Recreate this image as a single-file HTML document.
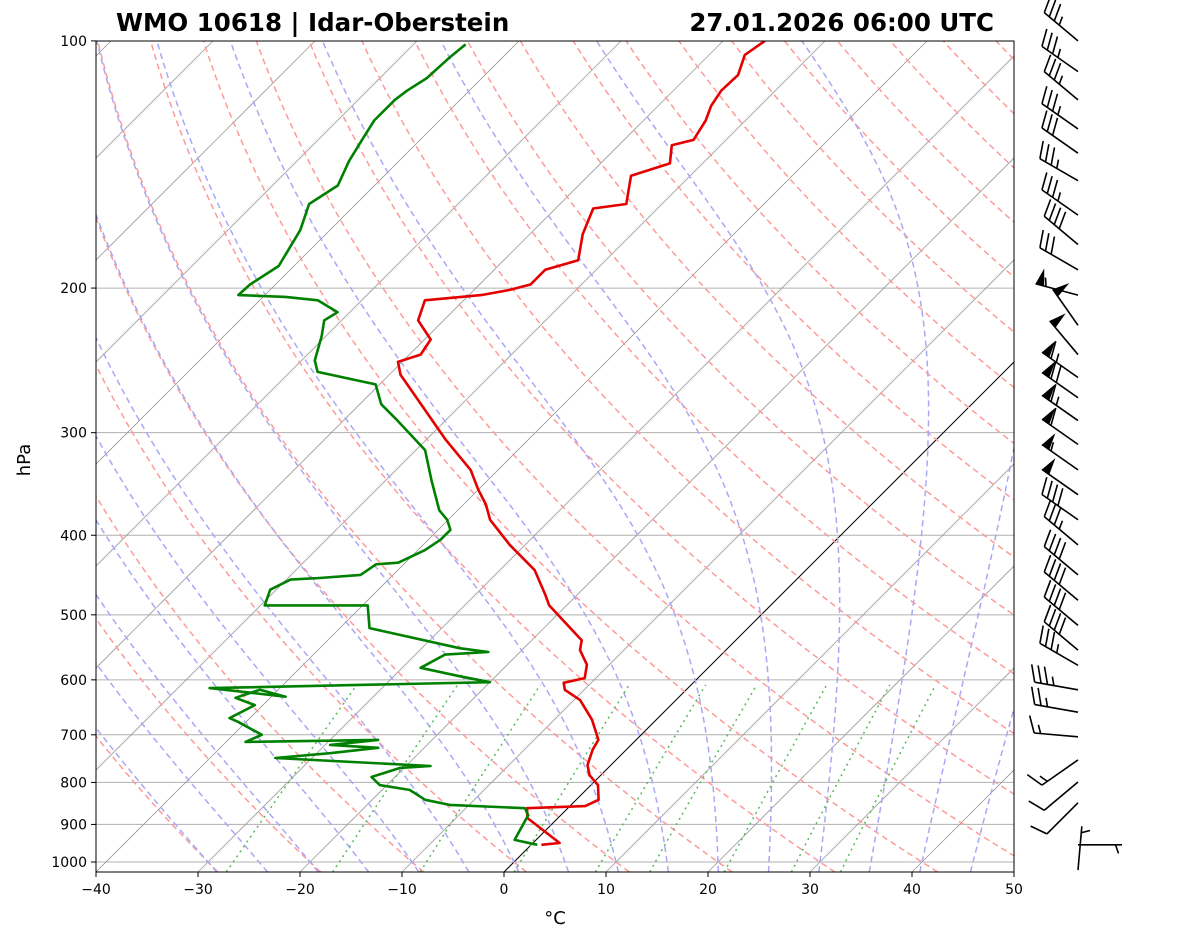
<!DOCTYPE html>
<html><head><meta charset="utf-8"><style>
body{margin:0;background:#fff;}
svg{display:block;font-family:"DejaVu Sans","Liberation Sans",sans-serif;}
</style></head><body>
<svg id="c" width="1181" height="941" viewBox="0 0 1181 941" xmlns="http://www.w3.org/2000/svg">
<defs><clipPath id="clip"><rect x="96" y="41" width="918" height="831"/></clipPath></defs>
<rect width="1181" height="941" fill="#fff"/>
<g id="bg" clip-path="url(#clip)"></g>
<g id="prof" clip-path="url(#clip)"></g>
<rect x="96" y="41" width="918" height="831" fill="none" stroke="#000" stroke-width="1"/>
<g id="axes"></g>
<g id="barbs"></g>
<text x="116" y="31" font-size="24.5" font-weight="bold">WMO 10618 | Idar-Oberstein</text>
<text x="994" y="31" font-size="24.5" font-weight="bold" text-anchor="end">27.01.2026 06:00 UTC</text>
<text x="30" y="460" font-size="18" text-anchor="middle" transform="rotate(-90 30 460)">hPa</text>
<text x="555" y="924" font-size="18" text-anchor="middle">°C</text>
</svg>
<script>
const tempP=[953,948,884,860,855,840,806,784,762,730,710,671,635,617,605,597,575,552,537,487,473,441,411,383,367,352,333,306,255,246,241,231,219,207,204,201,198,190,185,172,160,158,146,141,134,132,125,120,115,110,104,100];
const tempT=[1.0,2.6,-3.0,-4.0,1.5,2.2,0.7,-1.1,-2.3,-3.3,-3.7,-6.3,-9.4,-11.9,-12.7,-11.1,-12.2,-14.3,-15.1,-21.7,-23.1,-26.6,-31.5,-35.9,-37.8,-40.0,-42.7,-48.1,-58.9,-60.4,-58.9,-59.4,-62.5,-63.8,-58.8,-56.5,-55.0,-55.0,-52.7,-54.8,-56.3,-53.5,-55.8,-53.2,-54.8,-53.2,-53.9,-54.8,-55.3,-55.2,-56.5,-55.9];
const dewP=[953,940,877,860,852,840,817,806,788,768,764,747,737,726,720,710,714,700,675,668,644,631,617,629,614,604,594,580,559,555,549,519,487,487,466,453,451,447,434,432,417,405,394,383,373,343,315,290,277,262,253,245,229,219,214,207,205,204,198,193,188,170,158,150,140,132,125,118,115,111,105,101];
const dewT=[0.6,-2.1,-3.2,-4.2,-11.9,-14.8,-17.3,-20.7,-22.3,-20.4,-17.6,-33.6,-28.7,-24.5,-29.5,-25.3,-38.1,-37.2,-40.8,-42.0,-40.8,-43.4,-41.8,-38.6,-46.9,-20.0,-23.5,-28.2,-27.1,-23.1,-26.3,-37.1,-39.5,-49.6,-50.6,-49.6,-46.9,-43.2,-42.7,-40.7,-39.3,-38.8,-38.8,-40.1,-41.8,-45.5,-49.1,-54.7,-57.9,-60.4,-67.3,-68.7,-70.4,-71.7,-71.2,-74.3,-77.8,-82.6,-82.5,-82.0,-81.5,-82.9,-84.6,-83.6,-84.9,-85.7,-86.4,-86.4,-86.1,-85.4,-85.2,-84.9];
const windP=[100,109,118,128,137,148,163,177,190,204,222,241,257,272,290,310,333,357,383,411,447,480,515,552,576,617,657,704,751,799,847,953,1023];
const windDir=[310,305,310,305,305,300,305,310,300,285,325,320,305,305,305,305,305,305,305,310,310,310,310,310,300,280,280,275,235,230,225,90,5];
const windSpd=[35,35,35,35,30,35,35,40,30,55,50,50,65,70,65,60,55,50,40,35,40,40,40,40,35,35,25,15,15,10,10,5,5];
const yTicks=[100,200,300,400,500,600,700,800,900,1000];
const xTicks=[-40,-30,-20,-10,0,10,20,30,40,50];
const mixRatios=[0.0004,0.001,0.002,0.004,0.007,0.01,0.016,0.024,0.032];

const NS="http://www.w3.org/2000/svg";
const PBOT=1028.4;
function yp(p){return 862-356.6*Math.log(1000/p);}
function xp(T,p){return 96+(T+40)*10.2+(872-yp(p));}
function mk(tag,attrs,parent){const e=document.createElementNS(NS,tag);for(const k in attrs)e.setAttribute(k,attrs[k]);parent.appendChild(e);return e;}
const bg=document.getElementById('bg'),prof=document.getElementById('prof'),axes=document.getElementById('axes'),barbs=document.getElementById('barbs');
function pathFrom(ps,ts){let d='';for(let i=0;i<ps.length;i++){d+=(i?'L':'M')+xp(ts[i],ps[i]).toFixed(1)+','+yp(ps[i]).toFixed(1);}return d;}
const plevs=[];for(let p=PBOT;p>=99;p-=4)plevs.push(p);plevs.push(100);

for(const p of yTicks){
 const l=mk('line',{x1:96,x2:1014,y1:yp(p),y2:yp(p),stroke:'#b0b0b0','stroke-width':1},bg);
 
 
}
for(let T=-150;T<=50;T+=10){
 const l=mk('line',{x1:xp(T,PBOT),y1:yp(PBOT),x2:xp(T,100),y2:yp(100),stroke:T===0?'#000':'#999','stroke-width':T===0?1:0.8},bg);
 
 
}
for(let th=-30;th<=200;th+=10){
 const ts=plevs.map(p=>(th+273.15)*Math.pow(p/1000,0.2857)-273.15);
 const e=mk('path',{d:pathFrom(plevs,ts),fill:'none',stroke:'#ff9a9a','stroke-width':1.5,'stroke-dasharray':'6,4'},bg);
 
 
}
function rs(T,p){const es=6.112*Math.exp(17.67*(T-273.15)/(T-29.65));return 0.622*es/(p-es);}
function moistGrad(T,p){const r=rs(T,p),Lv=2.501e6,Rd=287.04,Cp=1005.7;return (Rd*T+Lv*r)/(Cp+Lv*Lv*r*0.622/(Rd*T*T))/p;}
for(let t0=-30;t0<=45;t0+=5){
 const ps=[],ts=[];
 let T=t0+273.15,p=1000;
 let Td=T,pd=1000;const down=[];
 while(pd<PBOT){const dp=Math.min(4,PBOT-pd);Td+=moistGrad(Td,pd)*dp;pd+=dp;down.push([pd,Td]);}
 down.reverse().forEach(a=>{ps.push(a[0]);ts.push(a[1]-273.15);});
 ps.push(1000);ts.push(T-273.15);
 while(p>100){const dp=Math.min(4,p-100);const k1=moistGrad(T,p);const k2=moistGrad(T-k1*dp,p-dp);T-=0.5*(k1+k2)*dp;p-=dp;ps.push(p);ts.push(T-273.15);}
 const e=mk('path',{d:pathFrom(ps,ts),fill:'none',stroke:'#a8a8f5','stroke-width':1.5,'stroke-dasharray':'6,4'},bg);
 
 
}
for(const w of mixRatios){
 const ps=[],ts=[];
 for(let p=PBOT;p>=600;p-=10){const e=p*w/(0.622+w);const l=Math.log(e/6.112);ps.push(p);ts.push(243.5*l/(17.67-l));}
 const e=mk('path',{d:pathFrom(ps,ts),fill:'none',stroke:'#5cb85c','stroke-width':1.5,'stroke-dasharray':'2,4'},bg);
 
 
}
const tl=mk('path',{d:pathFrom(tempP,tempT),fill:'none',stroke:'#e50000','stroke-width':2.6,'stroke-linejoin':'round'},prof);


const dl=mk('path',{d:pathFrom(dewP,dewT),fill:'none',stroke:'#008000','stroke-width':2.6,'stroke-linejoin':'round'},prof);


for(const p of yTicks){
 const y=yp(p);
 mk('line',{x1:91,x2:96,y1:y,y2:y,stroke:'#000'},axes);
 const t=mk('text',{x:87,y:y+5,'font-size':14,'text-anchor':'end'},axes);t.textContent=p;
 
 
}
for(const T of xTicks){
 const x=96+(T+40)*10.2;
 mk('line',{x1:x,x2:x,y1:872,y2:877,stroke:'#000'},axes);
 const t=mk('text',{x:x,y:894,'font-size':14,'text-anchor':'middle'},axes);t.textContent=(T<0?'\u2212'+(-T):T);
 
 
}
const BX=1078,L=44,F=17,SP=6.5;
for(let i=0;i<windP.length;i++){
 const by=yp(windP[i]),d=windDir[i]*Math.PI/180;
 const ux=Math.sin(d),uy=-Math.cos(d);const fx=-uy,fy=ux;
 const g=mk('g',{},barbs);
 
 
 const tx=BX+ux*L,ty=by+uy*L;
 mk('line',{x1:BX,y1:by,x2:tx,y2:ty,stroke:'#000','stroke-width':1.6},g);
 let s=Math.round(windSpd[i]/5)*5;let pos=L;
 let flags=Math.floor(s/50);s-=flags*50;let full=Math.floor(s/10);s-=full*10;let half=s>=5?1:0;
 for(let k=0;k<flags;k++){
  const ax=BX+ux*pos,ay=by+uy*pos,bx=BX+ux*(pos-9),byy=by+uy*(pos-9);
  const cx=BX+ux*(pos-4.5)+fx*F,cy=by+uy*(pos-4.5)+fy*F;
  mk('polygon',{points:`${ax},${ay} ${bx},${byy} ${cx},${cy}`,fill:'#000'},g);pos-=11;
 }
 for(let k=0;k<full;k++){
  const ax=BX+ux*pos,ay=by+uy*pos;
  mk('line',{x1:ax,y1:ay,x2:ax+fx*F+ux*6,y2:ay+fy*F+uy*6,stroke:'#000','stroke-width':1.6},g);pos-=SP;
 }
 if(half){ if(pos===L)pos-=SP;
  const ax=BX+ux*pos,ay=by+uy*pos;
  mk('line',{x1:ax,y1:ay,x2:ax+fx*F*0.5+ux*3,y2:ay+fy*F*0.5+uy*3,stroke:'#000','stroke-width':1.6},g);
 }
}
</script>
</body></html>
